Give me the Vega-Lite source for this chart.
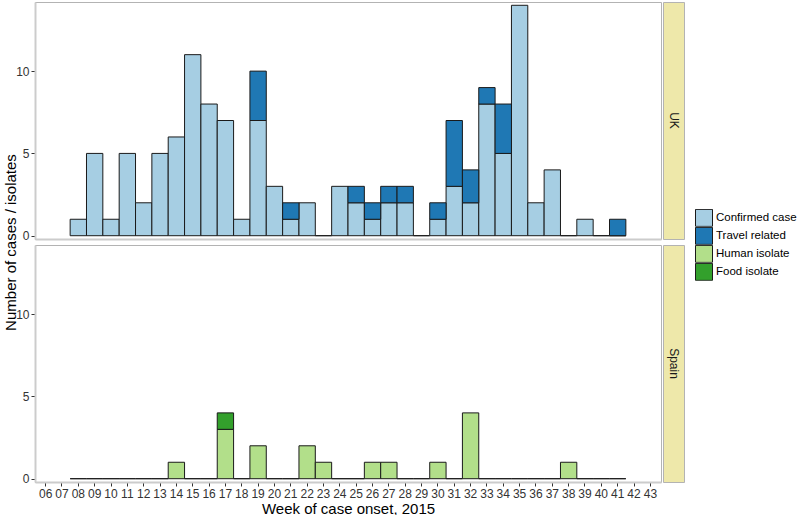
{
  "$schema": "https://vega.github.io/schema/vega-lite/v6.json",
  "padding": {"left": 3, "top": 1, "right": 0, "bottom": 0},
  "autosize": {"type": "pad"},
  "config": {
    "font": "Liberation Sans",
    "view": {"stroke": "#b3b3b3"},
    "axis": {
      "grid": false,
      "labelFontSize": 12,
      "labelColor": "#333333",
      "tickColor": "#333333",
      "tickSize": 4,
      "labelPadding": 2,
      "domainColor": "#cccccc",
      "domainWidth": 2,
      "titleFontWeight": "normal",
      "titleFontSize": 15,
      "titleColor": "#000000"
    }
  },
  "datasets": {
    "uk": [
      {"week": "08", "type": "Confirmed case", "count": 1},
      {"week": "09", "type": "Confirmed case", "count": 5},
      {"week": "10", "type": "Confirmed case", "count": 1},
      {"week": "11", "type": "Confirmed case", "count": 5},
      {"week": "12", "type": "Confirmed case", "count": 2},
      {"week": "13", "type": "Confirmed case", "count": 5},
      {"week": "14", "type": "Confirmed case", "count": 6},
      {"week": "15", "type": "Confirmed case", "count": 11},
      {"week": "16", "type": "Confirmed case", "count": 8},
      {"week": "17", "type": "Confirmed case", "count": 7},
      {"week": "18", "type": "Confirmed case", "count": 1},
      {"week": "19", "type": "Confirmed case", "count": 7},
      {"week": "20", "type": "Confirmed case", "count": 3},
      {"week": "21", "type": "Confirmed case", "count": 1},
      {"week": "22", "type": "Confirmed case", "count": 2},
      {"week": "23", "type": "Confirmed case", "count": 0},
      {"week": "24", "type": "Confirmed case", "count": 3},
      {"week": "25", "type": "Confirmed case", "count": 2},
      {"week": "26", "type": "Confirmed case", "count": 1},
      {"week": "27", "type": "Confirmed case", "count": 2},
      {"week": "28", "type": "Confirmed case", "count": 2},
      {"week": "29", "type": "Confirmed case", "count": 0},
      {"week": "30", "type": "Confirmed case", "count": 1},
      {"week": "31", "type": "Confirmed case", "count": 3},
      {"week": "32", "type": "Confirmed case", "count": 2},
      {"week": "33", "type": "Confirmed case", "count": 8},
      {"week": "34", "type": "Confirmed case", "count": 5},
      {"week": "35", "type": "Confirmed case", "count": 14},
      {"week": "36", "type": "Confirmed case", "count": 2},
      {"week": "37", "type": "Confirmed case", "count": 4},
      {"week": "38", "type": "Confirmed case", "count": 0},
      {"week": "39", "type": "Confirmed case", "count": 1},
      {"week": "40", "type": "Confirmed case", "count": 0},
      {"week": "41", "type": "Confirmed case", "count": 0},
      {"week": "19", "type": "Travel related", "count": 3},
      {"week": "21", "type": "Travel related", "count": 1},
      {"week": "25", "type": "Travel related", "count": 1},
      {"week": "26", "type": "Travel related", "count": 1},
      {"week": "27", "type": "Travel related", "count": 1},
      {"week": "28", "type": "Travel related", "count": 1},
      {"week": "30", "type": "Travel related", "count": 1},
      {"week": "31", "type": "Travel related", "count": 4},
      {"week": "32", "type": "Travel related", "count": 2},
      {"week": "33", "type": "Travel related", "count": 1},
      {"week": "34", "type": "Travel related", "count": 3},
      {"week": "41", "type": "Travel related", "count": 1}
    ],
    "spain": [
      {"week": "08", "type": "Human isolate", "count": 0},
      {"week": "09", "type": "Human isolate", "count": 0},
      {"week": "10", "type": "Human isolate", "count": 0},
      {"week": "11", "type": "Human isolate", "count": 0},
      {"week": "12", "type": "Human isolate", "count": 0},
      {"week": "13", "type": "Human isolate", "count": 0},
      {"week": "14", "type": "Human isolate", "count": 1},
      {"week": "15", "type": "Human isolate", "count": 0},
      {"week": "16", "type": "Human isolate", "count": 0},
      {"week": "17", "type": "Human isolate", "count": 3},
      {"week": "18", "type": "Human isolate", "count": 0},
      {"week": "19", "type": "Human isolate", "count": 2},
      {"week": "20", "type": "Human isolate", "count": 0},
      {"week": "21", "type": "Human isolate", "count": 0},
      {"week": "22", "type": "Human isolate", "count": 2},
      {"week": "23", "type": "Human isolate", "count": 1},
      {"week": "24", "type": "Human isolate", "count": 0},
      {"week": "25", "type": "Human isolate", "count": 0},
      {"week": "26", "type": "Human isolate", "count": 1},
      {"week": "27", "type": "Human isolate", "count": 1},
      {"week": "28", "type": "Human isolate", "count": 0},
      {"week": "29", "type": "Human isolate", "count": 0},
      {"week": "30", "type": "Human isolate", "count": 1},
      {"week": "31", "type": "Human isolate", "count": 0},
      {"week": "32", "type": "Human isolate", "count": 4},
      {"week": "33", "type": "Human isolate", "count": 0},
      {"week": "34", "type": "Human isolate", "count": 0},
      {"week": "35", "type": "Human isolate", "count": 0},
      {"week": "36", "type": "Human isolate", "count": 0},
      {"week": "37", "type": "Human isolate", "count": 0},
      {"week": "38", "type": "Human isolate", "count": 1},
      {"week": "39", "type": "Human isolate", "count": 0},
      {"week": "40", "type": "Human isolate", "count": 0},
      {"week": "41", "type": "Human isolate", "count": 0},
      {"week": "17", "type": "Food isolate", "count": 1}
    ]
  },
  "spacing": 0,
  "hconcat": [
    {
      "spacing": 6,
      "bounds": "flush",
      "vconcat": [
        {
          "width": 626,
          "height": 237,
          "data": {"name": "uk"},
          "mark": {"type": "bar", "stroke": "#1a1a1a", "strokeWidth": 1},
          "encoding": {
            "x": {
              "field": "week",
              "type": "ordinal",
              "scale": {
                "domain": ["06","07","08","09","10","11","12","13","14","15","16","17","18","19","20","21","22","23","24","25","26","27","28","29","30","31","32","33","34","35","36","37","38","39","40","41","42","43"],
                "paddingInner": 0,
                "paddingOuter": 0.15
              },
              "axis": {"labels": false, "ticks": false, "title": null}
            },
            "y": {
              "field": "count",
              "type": "quantitative",
              "stack": "zero",
              "scale": {"domain": [-0.2, 14.2], "nice": false, "zero": false},
              "axis": {"values": [0, 5, 10], "title": null}
            },
            "color": {
              "field": "type",
              "type": "nominal",
              "scale": {
                "domain": ["Confirmed case", "Travel related", "Human isolate", "Food isolate"],
                "range": ["#A6CEE3", "#1F78B4", "#B2DF8A", "#33A02C"]
              },
              "legend": {
                "title": null,
                "orient": "none",
                "legendX": 660,
                "legendY": 207,
                "symbolType": "square",
                "symbolSize": 289,
                "symbolStrokeColor": "#1a1a1a",
                "symbolStrokeWidth": 1,
                "symbolOpacity": 1,
                "labelFontSize": 11.5,
                "labelColor": "#000000",
                "labelOffset": 3,
                "rowPadding": 0,
                "clipHeight": 17.75
              }
            },
            "order": {"field": "type", "sort": "ascending"}
          }
        },
        {
          "width": 626,
          "height": 237,
          "data": {"name": "spain"},
          "mark": {"type": "bar", "stroke": "#1a1a1a", "strokeWidth": 1},
          "encoding": {
            "x": {
              "field": "week",
              "type": "ordinal",
              "scale": {
                "domain": ["06","07","08","09","10","11","12","13","14","15","16","17","18","19","20","21","22","23","24","25","26","27","28","29","30","31","32","33","34","35","36","37","38","39","40","41","42","43"],
                "paddingInner": 0,
                "paddingOuter": 0.15
              },
              "axis": {"labelAngle": 0, "title": "Week of case onset, 2015", "titlePadding": 2}
            },
            "y": {
              "field": "count",
              "type": "quantitative",
              "stack": "zero",
              "scale": {"domain": [-0.2, 14.2], "nice": false, "zero": false},
              "axis": {"values": [0, 5, 10], "title": "Number of cases / isolates", "titleY": -3, "titlePadding": -3}
            },
            "color": {
              "field": "type",
              "type": "nominal",
              "scale": {
                "domain": ["Confirmed case", "Travel related", "Human isolate", "Food isolate"],
                "range": ["#A6CEE3", "#1F78B4", "#B2DF8A", "#33A02C"]
              },
              "legend": {
                "title": null,
                "orient": "none",
                "legendX": 660,
                "legendY": 207,
                "symbolType": "square",
                "symbolSize": 289,
                "symbolStrokeColor": "#1a1a1a",
                "symbolStrokeWidth": 1,
                "symbolOpacity": 1,
                "labelFontSize": 11.5,
                "labelColor": "#000000",
                "labelOffset": 3,
                "rowPadding": 0,
                "clipHeight": 17.75
              }
            },
            "order": {"field": "type", "sort": "descending"}
          }
        }
      ]
    },
    {
      "spacing": 6,
      "bounds": "flush",
      "vconcat": [
        {
          "width": 21,
          "height": 237,
          "view": {"fill": "#EEE8AA", "stroke": "#b3b3b3"},
          "data": {"values": [{"panel": "UK"}]},
          "mark": {"type": "text", "angle": 90, "fontSize": 12, "color": "#1a1a1a"},
          "encoding": {"text": {"field": "panel", "type": "nominal"}}
        },
        {
          "width": 21,
          "height": 237,
          "view": {"fill": "#EEE8AA", "stroke": "#b3b3b3"},
          "data": {"values": [{"panel": "Spain"}]},
          "mark": {"type": "text", "angle": 90, "fontSize": 12, "color": "#1a1a1a"},
          "encoding": {"text": {"field": "panel", "type": "nominal"}}
        }
      ]
    }
  ]
}
